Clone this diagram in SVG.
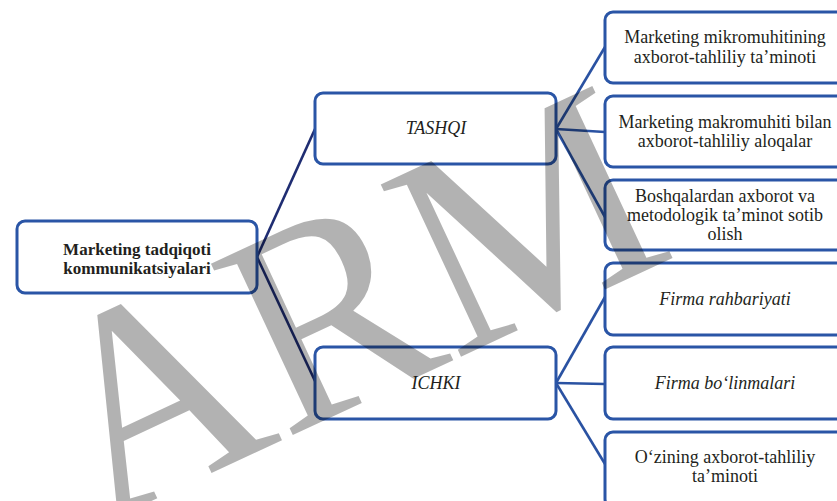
<svg xmlns="http://www.w3.org/2000/svg" width="837" height="501" viewBox="0 0 837 501">
  <style>
    .box { fill: #ffffff; stroke: #2a55a6; stroke-width: 3; }
    .t { font-family: 'Liberation Serif', 'Times New Roman', 'DejaVu Serif', serif; font-size: 18px; fill: #231f20; text-anchor: middle; }
    .b { font-weight: bold; font-size: 17px; }
    .i { font-style: italic; }
    .lv1 { stroke: #1f2d72; stroke-width: 2.6; fill: none; }
    .lv2 { stroke: #2a52a2; stroke-width: 2.6; fill: none; }
    .wm { font-family: 'Liberation Serif', 'Times New Roman', 'DejaVu Serif', serif; font-size: 290px; fill: #000000; fill-opacity: 0.3; }
  </style>
  <rect width="837" height="501" fill="#ffffff"/>

  <g id="connectors">
    <line class="lv1" x1="257" y1="257" x2="315" y2="129"/>
    <line class="lv1" x1="257" y1="257" x2="315" y2="381"/>
    <line class="lv2" x1="556" y1="129" x2="605" y2="47"/>
    <line class="lv2" x1="556" y1="129" x2="605" y2="132"/>
    <line class="lv2" x1="556" y1="129" x2="605" y2="217"/>
    <line class="lv2" x1="556" y1="383" x2="605" y2="297"/>
    <line class="lv2" x1="556" y1="383" x2="605" y2="384"/>
    <line class="lv2" x1="556" y1="383" x2="605" y2="464"/>
  </g>

  <g id="root">
    <rect class="box" x="17" y="221" width="240" height="72" rx="8"/>
    <text class="t b" x="137" y="255">Marketing tadqiqoti</text>
    <text class="t b" x="137" y="274">kommunikatsiyalari</text>
  </g>

  <g id="tashqi">
    <rect class="box" x="315" y="93" width="241" height="71" rx="8"/>
    <text class="t i" x="436" y="134">TASHQI</text>
  </g>

  <g id="ichki">
    <rect class="box" x="315" y="347" width="241" height="72" rx="8"/>
    <text class="t i" x="436" y="389">ICHKI</text>
  </g>

  <g id="mikro">
    <rect class="box" x="605" y="12" width="242" height="71" rx="8"/>
    <text class="t" x="725" y="43">Marketing mikromuhitining</text>
    <text class="t" x="725" y="63">axborot-tahliliy ta’minoti</text>
  </g>

  <g id="makro">
    <rect class="box" x="605" y="96" width="242" height="71" rx="8"/>
    <text class="t" x="725" y="128">Marketing makromuhiti bilan</text>
    <text class="t" x="725" y="147">axborot-tahliliy aloqalar</text>
  </g>

  <g id="boshqalar">
    <rect class="box" x="605" y="180" width="242" height="70" rx="8"/>
    <text class="t" x="725" y="202">Boshqalardan axborot va</text>
    <text class="t" x="725" y="221">metodologik ta’minot sotib</text>
    <text class="t" x="725" y="240">olish</text>
  </g>

  <g id="rahbariyat">
    <rect class="box" x="605" y="263" width="242" height="72" rx="8"/>
    <text class="t i" x="725" y="305">Firma rahbariyati</text>
  </g>

  <g id="bolinmalar">
    <rect class="box" x="605" y="347" width="242" height="72" rx="8"/>
    <text class="t i" x="725" y="389">Firma bo‘linmalari</text>
  </g>

  <g id="ozining">
    <rect class="box" x="605" y="432" width="242" height="75" rx="8"/>
    <text class="t" x="725" y="463">O‘zining axborot-tahliliy</text>
    <text class="t" x="725" y="482">ta’minoti</text>
  </g>

  <!-- translucent watermark -->
  <text class="wm" x="0" y="0" textLength="640" lengthAdjust="spacingAndGlyphs" transform="translate(100,525) rotate(-25)">ARM</text>
</svg>
